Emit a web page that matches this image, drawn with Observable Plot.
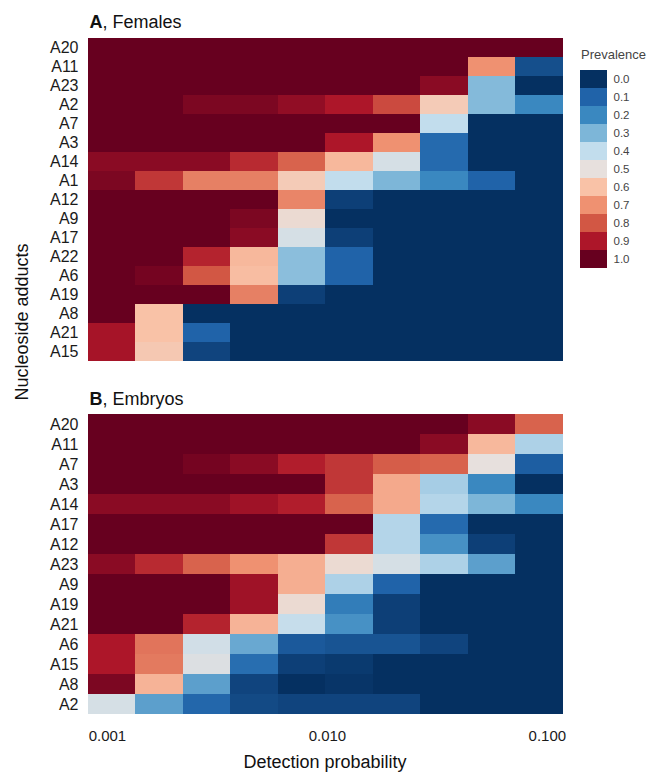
<!DOCTYPE html>
<html>
<head>
<meta charset="utf-8">
<script src="https://cdn.jsdelivr.net/npm/d3@7"></script>
<script src="https://cdn.jsdelivr.net/npm/@observablehq/plot@0.6"></script>
<style>
  html, body { margin: 0; padding: 0; background: #ffffff; }
  #root { position: relative; width: 648px; height: 773px; overflow: hidden; background: #fff;
          font-family: "Liberation Sans", Arial, Helvetica, sans-serif; }
  #root > * { position: absolute; }
</style>
</head>
<body>
<div id="root"></div>
<script>
// ---------- data ----------
const detectionProb = [0.00105, 0.00172, 0.00283, 0.00465, 0.00766, 0.0126, 0.0207, 0.0341, 0.0561, 0.0923];
const xTicks = [0.001, 0.01, 0.1];

const femaleAdducts = ["A20","A11","A23","A2","A7","A3","A14","A1","A12","A9","A17","A22","A6","A19","A8","A21","A15"];
const femaleValues = [
  [1,1,1,1,1,1,1,1,1,1],
  [1,1,1,1,1,1,1,1,0.7,0.06],
  [1,1,1,1,1,1,1,0.95,0.31,0],
  [1,1,0.97,0.97,0.94,0.9,0.82,0.57,0.31,0.2],
  [1,1,1,1,1,1,1,0.4,0,0],
  [1,1,1,1,1,0.9,0.7,0.12,0,0],
  [0.95,0.95,0.95,0.87,0.78,0.62,0.45,0.12,0,0],
  [0.97,0.85,0.73,0.73,0.57,0.4,0.3,0.2,0.1,0],
  [1,1,1,1,0.72,0.03,0,0,0,0],
  [1,1,1,0.97,0.52,0,0,0,0,0],
  [1,1,1,0.95,0.45,0.03,0,0,0,0],
  [1,1,0.88,0.62,0.32,0.1,0,0,0,0],
  [1,0.98,0.8,0.61,0.32,0.1,0,0,0,0],
  [1,1,1,0.73,0.03,0,0,0,0,0],
  [1,0.6,0,0,0,0,0,0,0,0],
  [0.91,0.6,0.1,0,0,0,0,0,0,0],
  [0.91,0.58,0.04,0,0,0,0,0,0,0]
];

const embryoAdducts = ["A20","A11","A7","A3","A14","A17","A12","A23","A9","A19","A21","A6","A15","A8","A2"];
const embryoValues = [
  [1,1,1,1,1,1,1,1,0.95,0.78],
  [1,1,1,1,1,1,1,0.95,0.62,0.37],
  [1,1,0.98,0.95,0.89,0.85,0.79,0.78,0.5,0.09],
  [1,1,1,1,1,0.85,0.65,0.36,0.2,0],
  [0.95,0.95,0.95,0.92,0.89,0.78,0.65,0.38,0.3,0.2],
  [1,1,1,1,1,1,0.38,0.12,0,0],
  [1,1,1,1,1,0.85,0.38,0.22,0.03,0],
  [0.95,0.87,0.78,0.7,0.64,0.52,0.45,0.37,0.25,0],
  [1,1,1,0.92,0.64,0.37,0.1,0,0,0],
  [1,1,1,0.92,0.52,0.17,0.03,0,0,0],
  [1,1,0.88,0.63,0.41,0.22,0.03,0,0,0],
  [0.9,0.75,0.44,0.27,0.08,0.07,0.07,0.04,0,0],
  [0.9,0.74,0.47,0.13,0.03,0.02,0,0,0,0],
  [0.97,0.63,0.25,0.04,0,0.01,0,0,0,0],
  [0.45,0.25,0.11,0.05,0.04,0.04,0.04,0,0,0]
];

const prevalenceLevels = [0.0,0.1,0.2,0.3,0.4,0.5,0.6,0.7,0.8,0.9,1.0];
const prevalenceColors = ["#053061","#2063a9","#3a88c0","#7db6d8","#c2dded","#e7e0dd","#f9c2a7","#ef9171","#d25744","#ad1629","#67001f"];

// ---------- helpers ----------
const n = detectionProb.length;
const lo = j => j > 0 ? Math.sqrt(detectionProb[j-1]*detectionProb[j]) : detectionProb[0] / Math.sqrt(detectionProb[1]/detectionProb[0]);
const hi = j => j < n-1 ? Math.sqrt(detectionProb[j]*detectionProb[j+1]) : detectionProb[n-1] * Math.sqrt(detectionProb[n-1]/detectionProb[n-2]);
const xDomain = [lo(0), hi(n-1)];

const tidy = (adducts, values) => adducts.flatMap((a, i) => values[i].map((v, j) => ({adduct: a, j, v})));

const FONT = '"Liberation Sans", Arial, Helvetica, sans-serif';
const colorOpts = {type: "linear", domain: prevalenceLevels, range: prevalenceColors, interpolate: "rgb", clamp: true};

function heat(adducts, values, opts) {
  const data = tidy(adducts, values);
  return Plot.plot({
    width: 648,
    height: opts.height,
    marginLeft: 88,
    marginRight: 85,
    marginTop: opts.marginTop,
    marginBottom: opts.marginBottom,
    style: {fontFamily: FONT, fontSize: "15px", color: "#1a1a1a", background: "transparent"},
    x: {type: "log", domain: xDomain, axis: null},
    y: {domain: adducts, padding: 0, axis: null},
    color: colorOpts,
    marks: [
      Plot.barX(data, {
        x1: d => lo(d.j), x2: d => hi(d.j), y: "adduct",
        fill: "v", shapeRendering: "crispEdges"
      }),
      Plot.axisY({tickSize: 0, tickPadding: 10, label: null, fontSize: 16}),
      ...(opts.xAxis ? [Plot.axisX({ticks: xTicks, tickFormat: d3.format(".3f"), tickSize: 0, tickPadding: 14, label: null, fontSize: 15})] : [])
    ]
  });
}

const root = document.getElementById("root");

const plotA = heat(femaleAdducts, femaleValues, {height: 368, marginTop: 36.5, marginBottom: 4.7, xAxis: false});
plotA.style.left = "0px"; plotA.style.top = "0px";
root.appendChild(plotA);

const plotB = heat(embryoAdducts, embryoValues, {height: 403, marginTop: 42.3, marginBottom: 57.3, xAxis: true});
plotB.style.left = "0px"; plotB.style.top = "370px";
root.appendChild(plotB);

// legend as a small Plot
const legend = Plot.plot({
  width: 69,
  height: 203.5,
  marginLeft: 0, marginRight: 42, marginTop: 0, marginBottom: 0,
  style: {fontFamily: FONT, fontSize: "11.5px", color: "#444", background: "transparent"},
  y: {domain: prevalenceLevels, padding: 0, axis: null},
  color: colorOpts,
  marks: [
    Plot.cell(prevalenceLevels, {y: d => d, fill: d => d, shapeRendering: "crispEdges"}),
    Plot.axisY({anchor: "right", tickSize: 0, tickPadding: 6, tickFormat: d3.format(".1f"), label: null})
  ]
});
legend.style.left = "579.5px"; legend.style.top = "66.7px";
root.appendChild(legend);

// text overlay
const svg = d3.select(root).append("svg")
  .attr("width", 648).attr("height", 773)
  .style("left", "0px").style("top", "0px")
  .style("pointer-events", "none")
  .style("font-family", FONT);

function title(letter, rest, y) {
  const t = svg.append("text").attr("x", 89.5).attr("y", y).attr("font-size", 18).attr("fill", "#111");
  t.append("tspan").attr("font-weight", "bold").text(letter);
  t.append("tspan").text(rest);
}
title("A", ", Females", 28.3);
title("B", ", Embryos", 405);

svg.append("text").attr("x", 325).attr("y", 768).attr("text-anchor", "middle")
  .attr("font-size", 18).attr("fill", "#111").text("Detection probability");

svg.append("text").attr("transform", "translate(27.5,322) rotate(-90)").attr("text-anchor", "middle")
  .attr("font-size", 18).attr("fill", "#111").text("Nucleoside adducts");

svg.append("text").attr("x", 581).attr("y", 59).attr("font-size", 13).attr("fill", "#444").text("Prevalence");
</script>
</body>
</html>
